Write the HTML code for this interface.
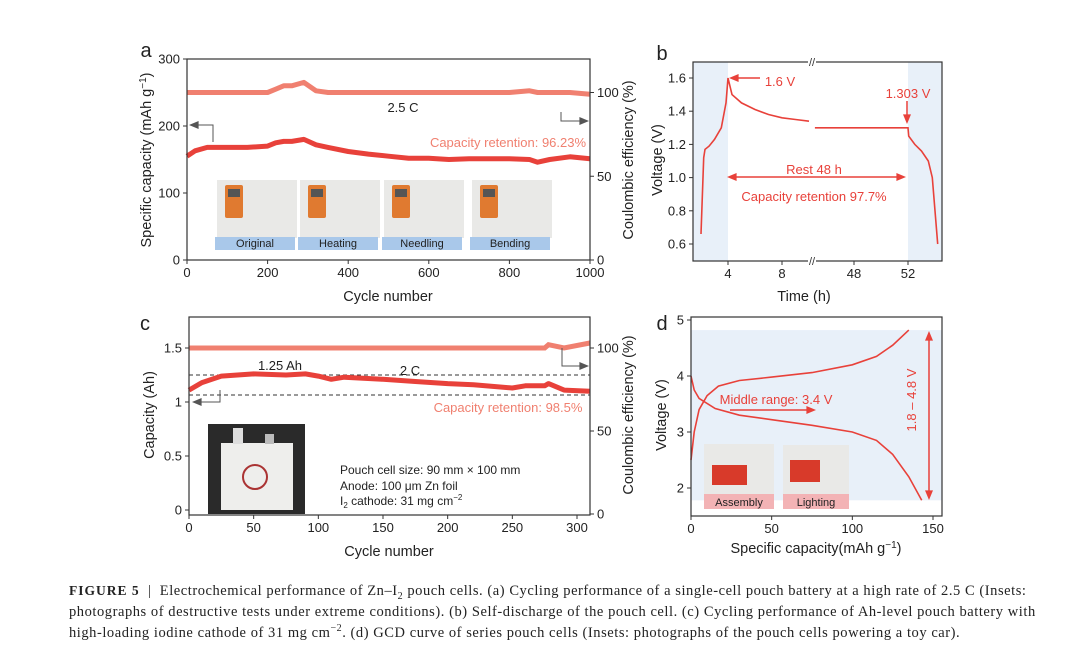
<!DOCTYPE html>
<html><head><meta charset="utf-8">
<style>
body{margin:0;background:#fff;width:1080px;height:668px;overflow:hidden;font-family:"Liberation Sans",sans-serif}
svg text{font-family:"Liberation Sans",sans-serif}
.cap{position:absolute;left:69px;top:580px;width:1010px;white-space:nowrap;font-family:"Liberation Serif",serif;font-size:14.5px;letter-spacing:0.55px;line-height:21px;color:#222}
.cap sub,.cap sup{line-height:0;font-size:10px}
</style></head><body>
<svg id="fig" width="1080" height="580" style="position:absolute;left:0;top:0" xmlns="http://www.w3.org/2000/svg">
<g id="pa"></g>
<g id="pb"></g>
<g id="pc"></g>
<g id="pd"></g>
</svg>
<div class="cap"><b style="font-size:13.5px;letter-spacing:1px">FIGURE 5</b> &nbsp;| &nbsp;Electrochemical performance of Zn–I<sub>2</sub> pouch cells. (a) Cycling performance of a single-cell pouch battery at a high rate of 2.5 C (Insets:<br>photographs of destructive tests under extreme conditions). (b) Self-discharge of the pouch cell. (c) Cycling performance of Ah-level pouch battery with<br>high-loading iodine cathode of 31 mg cm<sup>−2</sup>. (d) GCD curve of series pouch cells (Insets: photographs of the pouch cells powering a toy car).</div>
<script>
// ---- data ----
const aCycles=[0,20,50,100,150,200,220,240,260,290,320,350,400,450,500,550,600,650,700,750,800,850,870,900,950,1000];
const aCapacity=[155,163,168,168,168,170,175,177,177,180,172,168,162,158,155,152,152,150,151,151,151,150,146,150,154,151];
const aCE=[100,100,100,100,100,100,102,104,104,106,101,100,100,100,100,100,100,100,100,100,100,101,100,100,100,99];
const aXTicks=[0,200,400,600,800,1000];
const aYTicks=[0,100,200,300];
const aY2Ticks=[0,50,100];
const bTimeL=[2.0,2.2,2.3,2.6,3,3.5,3.85,4.0,4.3,5,6,7,8,9,10];
const bVoltL=[0.66,1.12,1.17,1.19,1.23,1.3,1.45,1.6,1.5,1.45,1.41,1.38,1.36,1.35,1.34];
const bTimeR=[45.1,48,52,52.05,52.5,53,53.5,53.8,54,54.2];
const bVoltR=[1.30,1.30,1.30,1.25,1.2,1.16,1.1,1.0,0.8,0.6];
const bXTickVals=[4,8,48,52];
const bYTicks=[0.6,0.8,1.0,1.2,1.4,1.6];
const cCycles=[0,10,25,50,75,90,100,110,120,150,175,200,220,250,260,275,278,290,310];
const cCapacity=[1.11,1.18,1.24,1.26,1.25,1.26,1.24,1.21,1.23,1.21,1.19,1.17,1.16,1.13,1.15,1.15,1.17,1.11,1.10];
const cCE=[100,100,100,100,100,100,100,100,100,100,100,100,100,100,100,100,102,100,103];
const cXTicks=[0,50,100,150,200,250,300];
const cYTicks=[0,0.5,1,1.5];
const cY2Ticks=[0,50,100];
const dChargeCap=[0,2,5,10,17,30,50,75,100,115,125,135];
const dChargeV=[2.5,3.0,3.4,3.65,3.82,3.92,3.98,4.06,4.2,4.35,4.55,4.82];
const dDisCap=[0,2,5,15,30,50,75,100,115,125,135,143];
const dDisV=[4.0,3.75,3.6,3.42,3.3,3.22,3.12,3.0,2.85,2.6,2.2,1.78];
const dXTicks=[0,50,100,150];
const dYTicks=[2,3,4,5];
// ---- helpers ----
const NS="http://www.w3.org/2000/svg";
function mk(parent,tag,attrs,txt){const e=document.createElementNS(NS,tag);for(const k in attrs)e.setAttribute(k,attrs[k]);if(txt!==undefined)e.textContent=txt;parent.appendChild(e);return e;}
const RED="#e8413a",PINK="#f08070",TXT="#222";
function lin(d0,d1,p0,p1){return v=>p0+(v-d0)*(p1-p0)/(d1-d0);}
function pathOf(xs,ys,X,Y){return xs.map((v,i)=>(i?"L":"M")+X(v).toFixed(1)+","+Y(ys[i]).toFixed(1)).join("");}
function box(g,x0,y0,x1,y1){const r=mk(g,"rect",{x:x0,y:y0,width:x1-x0,height:y1-y0,fill:"none",stroke:"#333","stroke-width":1.2});}
function xTicks(g,vals,X,yb,fmt){vals.forEach(v=>{const x=X(v);mk(g,"line",{x1:x,x2:x,y1:yb,y2:yb+4,stroke:"#333"});const t=mk(g,"text",{x:x,y:yb+17,"font-size":13,"text-anchor":"middle",fill:TXT},fmt?fmt(v):v);});}
function yTicks(g,vals,Y,xl,side,fmt){vals.forEach(v=>{const y=Y(v);mk(g,"line",{x1:xl,x2:xl+(side<0?-4:4),y1:y,y2:y,stroke:"#333"});const t=mk(g,"text",{x:xl+(side<0?-7:7),y:y+4.5,"font-size":13,"text-anchor":side<0?"end":"start",fill:TXT},fmt?fmt(v):v);});}
function label(g,x,y,txt,rot,name,size){const t=mk(g,"text",{x:x,y:y,"font-size":size||14.5,"text-anchor":"middle",fill:TXT,transform:rot?`rotate(-90 ${x} ${y})`:""});t.innerHTML=txt;return t;}
function arrowHead(g,x,y,dir,col){const s=6;let p;if(dir=="l")p=`${x},${y} ${x+s*1.6},${y-s/1.5} ${x+s*1.6},${y+s/1.5}`;else if(dir=="r")p=`${x},${y} ${x-s*1.6},${y-s/1.5} ${x-s*1.6},${y+s/1.5}`;else if(dir=="d")p=`${x},${y} ${x-s/1.5},${y-s*1.6} ${x+s/1.5},${y-s*1.6}`;else p=`${x},${y} ${x-s/1.5},${y+s*1.6} ${x+s/1.5},${y+s*1.6}`;mk(g,"polygon",{points:p,fill:col});}
function photo(g,x,y,w,h,kind){const r=mk(g,"rect",{x:x,y:y,width:w,height:h,fill:kind=="dark"?"#2a2a2a":"#e9e9e7"});}
// ---- panel a ----
(function(){const g=document.getElementById("pa");
const X=lin(0,1000,187,590),Y=lin(0,300,260,59),Y2=v=>Y(v*2.5);
label(g,146,57,"a",false,"panel-label-a",20);
const ins=[["Original",217],["Heating",300],["Needling",384],["Bending",472]];
ins.forEach(([n,x])=>{photo(g,x,180,80,58);mk(g,"rect",{x:x+8,y:185,width:18,height:33,rx:2,fill:"#e07a30"});mk(g,"rect",{x:x+11,y:189,width:12,height:8,fill:"#555"});
const b=mk(g,"rect",{x:x-2,y:237,width:80,height:13,fill:"#a9c8ea"});
label(g,x+38,247,n,false,"inset-label",11);});
const ce=mk(g,"path",{d:pathOf(aCycles,aCE,X,Y2),fill:"none",stroke:PINK,"stroke-width":5,"stroke-linejoin":"round"});

const cap=mk(g,"path",{d:pathOf(aCycles,aCapacity,X,Y),fill:"none",stroke:RED,"stroke-width":5,"stroke-linejoin":"round"});

box(g,187,59,590,260);
xTicks(g,aXTicks,X,260);yTicks(g,aYTicks,Y,187,-1);yTicks(g,aY2Ticks,Y2,590,1);
label(g,388,301,"Cycle number",false,"x-axis-title");
label(g,151,160,"Specific capacity (mAh g<tspan dy='-5' font-size='10'>−1</tspan><tspan dy='5'>)</tspan>",true,"y-axis-title-left");
label(g,633,160,"Coulombic efficiency (%)",true,"y-axis-title-right");
label(g,403,112,"2.5 C",false,"rate-label",13);
const cr=label(g,508,147,"Capacity retention: 96.23%",false,"capacity-retention-label",13);cr.setAttribute("fill",PINK);
mk(g,"polyline",{points:"213,142 213,125 192,125",fill:"none",stroke:"#555"});arrowHead(g,189,125,"l","#555");
mk(g,"polyline",{points:"561,112 561,121 585,121",fill:"none",stroke:"#555"});arrowHead(g,589,121,"r","#555");
})();
// ---- panel b ----
(function(){const g=document.getElementById("pb");
const XL=lin(4,8,728,782),XR=lin(48,52,854,908),Y=lin(0.6,1.6,244,78);
label(g,662,60,"b",false,"panel-label-b",20);
const s1=mk(g,"rect",{x:693,y:62,width:35,height:199,fill:"#e8f0f9"});
const s2=mk(g,"rect",{x:908,y:62,width:34,height:199,fill:"#e8f0f9"});
const l1=mk(g,"path",{d:pathOf(bTimeL,bVoltL,XL,Y),fill:"none",stroke:RED,"stroke-width":1.6});
const l2=mk(g,"path",{d:pathOf(bTimeR,bVoltR,XR,Y),fill:"none",stroke:RED,"stroke-width":1.6});
box(g,693,62,942,261);
mk(g,"rect",{x:808,y:58,width:8,height:8,fill:"#fff"});mk(g,"rect",{x:808,y:257,width:8,height:8,fill:"#fff"});
mk(g,"text",{x:812,y:66,"font-size":11,"text-anchor":"middle",fill:"#333"},"//");mk(g,"text",{x:812,y:265,"font-size":11,"text-anchor":"middle",fill:"#333"},"//");
bXTickVals.forEach(v=>{const x=v<20?XL(v):XR(v);mk(g,"line",{x1:x,x2:x,y1:261,y2:265,stroke:"#333"});const t=mk(g,"text",{x:x,y:278,"font-size":13,"text-anchor":"middle",fill:TXT},v);});
yTicks(g,bYTicks,Y,693,-1,v=>v.toFixed(1));
label(g,804,301,"Time (h)",false,"x-axis-title");
label(g,662,160,"Voltage (V)",true,"y-axis-title");
mk(g,"line",{x1:735,x2:760,y1:78,y2:78,stroke:RED,"stroke-width":1.5});arrowHead(g,729,78,"l",RED);
const t1=label(g,780,86,"1.6 V",false,"peak-voltage-label",13);t1.setAttribute("fill",RED);
const t2=label(g,908,98,"1.303 V",false,"rest-voltage-label",13);t2.setAttribute("fill",RED);
mk(g,"line",{x1:907,x2:907,y1:101,y2:116,stroke:RED,"stroke-width":1.5});arrowHead(g,907,124,"d",RED);
mk(g,"line",{x1:733,x2:900,y1:177,y2:177,stroke:RED,"stroke-width":1.5});arrowHead(g,727,177,"l",RED);arrowHead(g,906,177,"r",RED);
const t3=label(g,814,174,"Rest 48 h",false,"rest-label",13);t3.setAttribute("fill",RED);
const t4=label(g,814,201,"Capacity retention 97.7%",false,"capacity-retention-label",13);t4.setAttribute("fill",RED);
})();
// ---- panel c ----
(function(){const g=document.getElementById("pc");
const X=lin(0,300,189,577),Y=lin(0,1.5,510,348),Y2=lin(0,100,514,348);
label(g,145,330,"c",false,"panel-label-c",20);
photo(g,208,424,97,90,"dark");mk(g,"rect",{x:221,y:443,width:72,height:67,fill:"#eeeeec"});mk(g,"rect",{x:233,y:428,width:10,height:16,fill:"#ddd"});mk(g,"rect",{x:265,y:434,width:9,height:10,fill:"#bbb"});mk(g,"circle",{cx:255,cy:477,r:12,fill:"none",stroke:"#a33","stroke-width":2});
mk(g,"line",{x1:189,x2:590,y1:375,y2:375,stroke:"#333","stroke-dasharray":"4,3"});
mk(g,"line",{x1:189,x2:590,y1:395,y2:395,stroke:"#333","stroke-dasharray":"4,3"});
const ce=mk(g,"path",{d:pathOf(cCycles,cCE,X,Y2),fill:"none",stroke:PINK,"stroke-width":5});
const cap=mk(g,"path",{d:pathOf(cCycles,cCapacity,X,Y),fill:"none",stroke:RED,"stroke-width":5,"stroke-linejoin":"round"});
box(g,189,317,590,515);
xTicks(g,cXTicks,X,515);yTicks(g,cYTicks,Y,189,-1);yTicks(g,cY2Ticks,Y2,590,1);
label(g,389,556,"Cycle number",false,"x-axis-title");
label(g,154,415,"Capacity (Ah)",true,"y-axis-title-left");
label(g,633,415,"Coulombic efficiency (%)",true,"y-axis-title-right");
label(g,280,370,"1.25 Ah",false,"peak-capacity-label",13);
label(g,410,375,"2 C",false,"rate-label",13);
const cr=label(g,508,412,"Capacity retention: 98.5%",false,"capacity-retention-label",13);cr.setAttribute("fill",PINK);
mk(g,"polyline",{points:"220,390 220,402 196,402",fill:"none",stroke:"#555"});arrowHead(g,192,402,"l","#555");
mk(g,"polyline",{points:"562,348 562,366 584,366",fill:"none",stroke:"#555"});arrowHead(g,589,366,"r","#555");
const i1=mk(g,"text",{x:340,y:474,"font-size":12,fill:TXT},"Pouch cell size: 90 mm × 100 mm");
const i2=mk(g,"text",{x:340,y:490,"font-size":12,fill:TXT},"Anode: 100 μm Zn foil");
const i3=mk(g,"text",{x:340,y:505,"font-size":12,fill:TXT});i3.innerHTML="I<tspan font-size='8' dy='3'>2</tspan><tspan dy='-3'> cathode: 31 mg cm</tspan><tspan font-size='8' dy='-5'>−2</tspan>";
})();
// ---- panel d ----
(function(){const g=document.getElementById("pd");
const X=lin(0,150,691,933),Y=lin(2,5,488,320);
label(g,662,330,"d",false,"panel-label-d",20);
const sh=mk(g,"rect",{x:691,y:Y(4.82),width:251,height:Y(1.78)-Y(4.82),fill:"#e8f0f9"});
photo(g,704,444,70,50);mk(g,"rect",{x:712,y:465,width:35,height:20,fill:"#d83a2a"});
photo(g,783,445,66,50);mk(g,"rect",{x:790,y:460,width:30,height:22,fill:"#d83a2a"});
const a1=mk(g,"rect",{x:704,y:494,width:70,height:15,fill:"#f3b3b5"});
const a2=mk(g,"rect",{x:783,y:494,width:66,height:15,fill:"#f3b3b5"});
label(g,739,506,"Assembly",false,"inset-label",11);label(g,816,506,"Lighting",false,"inset-label",11);
const c1=mk(g,"path",{d:pathOf(dChargeCap,dChargeV,X,Y),fill:"none",stroke:RED,"stroke-width":1.6});
const c2=mk(g,"path",{d:pathOf(dDisCap,dDisV,X,Y),fill:"none",stroke:RED,"stroke-width":1.6});
box(g,691,317,942,516);
xTicks(g,dXTicks,X,516);yTicks(g,dYTicks,Y,691,-1);
label(g,816,553,"Specific capacity(mAh g<tspan dy='-5' font-size='10'>−1</tspan><tspan dy='5'>)</tspan>",false,"x-axis-title");
label(g,666,415,"Voltage (V)",true,"y-axis-title");
const m=label(g,776,404,"Middle range: 3.4 V",false,"middle-range-label",13);m.setAttribute("fill",RED);
mk(g,"line",{x1:730,x2:810,y1:410,y2:410,stroke:RED,"stroke-width":1.5});arrowHead(g,816,410,"r",RED);
mk(g,"line",{x1:929,x2:929,y1:337,y2:494,stroke:RED,"stroke-width":1.5});arrowHead(g,929,331,"u",RED);arrowHead(g,929,500,"d",RED);
const r=label(g,916,400,"1.8 – 4.8 V",true,"voltage-range-label",13);r.setAttribute("fill",RED);
})();
</script>
</body></html>
